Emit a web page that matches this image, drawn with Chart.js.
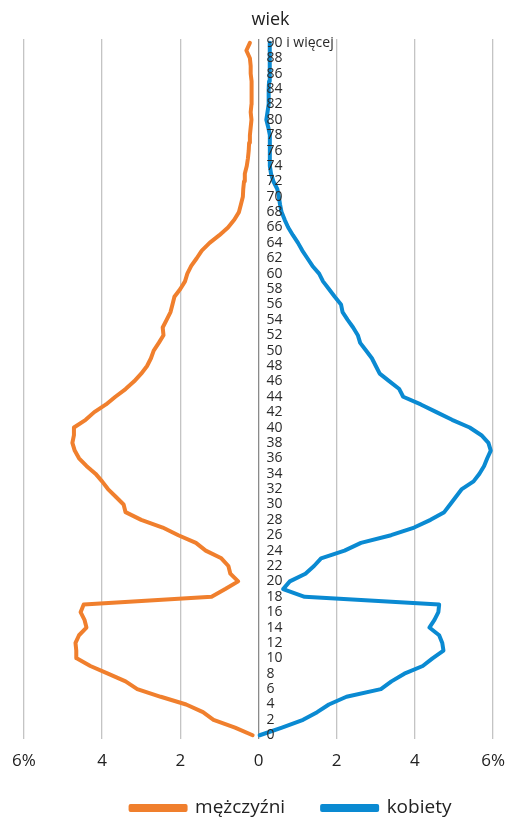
<!DOCTYPE html>
<html>
<head>
<meta charset="utf-8">
<script src="https://cdn.jsdelivr.net/npm/chart.js@4/dist/chart.umd.min.js"></script>
<style>
  html, body { margin: 0; padding: 0; background: #fff; }
</style>
</head>
<body>
<canvas id="pyramid" width="517" height="817"></canvas>
<script>
// share of population by single year of age (%)
const ages = [];
for (let a = 0; a <= 90; a++) ages.push(a);

const men = [
    0.15, 0.60, 1.15, 1.42, 1.85, 2.50, 3.10, 3.40, 3.85, 4.30,   // 0-9
    4.65, 4.66, 4.68, 4.59, 4.40, 4.45, 4.55, 4.47, 1.20, 0.85,   // 10-19
    0.52, 0.72, 0.77, 0.95, 1.35, 1.60, 2.05, 2.45, 3.00, 3.40,   // 20-29
    3.45, 3.65, 3.85, 4.00, 4.17, 4.40, 4.59, 4.70, 4.76, 4.72,   // 30-39
    4.72, 4.42, 4.20, 3.90, 3.66, 3.40, 3.18, 3.00, 2.85, 2.75,   // 40-49
    2.68, 2.55, 2.43, 2.45, 2.35, 2.25, 2.20, 2.15, 2.00, 1.88,   // 50-59
    1.82, 1.72, 1.58, 1.45, 1.25, 1.00, 0.78, 0.62, 0.50, 0.45,   // 60-69
    0.40, 0.39, 0.37, 0.35, 0.30, 0.27, 0.25, 0.24, 0.22, 0.20,   // 70-79
    0.18, 0.20, 0.18, 0.17, 0.18, 0.18, 0.20, 0.20, 0.22, 0.31,   // 80-89
    0.22                                                          // 90+
];

const women = [
    0.03, 0.60, 1.14, 1.50, 1.80, 2.25, 3.13, 3.40, 3.73, 4.20,   // 0-9
    4.45, 4.73, 4.70, 4.62, 4.37, 4.50, 4.60, 4.62, 1.18, 0.63,   // 10-19
    0.80, 1.20, 1.42, 1.60, 2.20, 2.62, 3.39, 3.98, 4.40, 4.75,   // 20-29
    4.90, 5.05, 5.20, 5.50, 5.65, 5.77, 5.85, 5.94, 5.88, 5.70,   // 30-39
    5.40, 4.95, 4.55, 4.15, 3.70, 3.60, 3.35, 3.10, 3.00, 2.90,   // 40-49
    2.75, 2.60, 2.54, 2.42, 2.28, 2.15, 2.11, 1.95, 1.80, 1.65,   // 50-59
    1.55, 1.38, 1.25, 1.12, 1.01, 0.88, 0.76, 0.67, 0.59, 0.55,   // 60-69
    0.52, 0.48, 0.38, 0.32, 0.29, 0.29, 0.29, 0.29, 0.29, 0.25,   // 70-79
    0.20, 0.23, 0.26, 0.26, 0.26, 0.27, 0.28, 0.29, 0.29, 0.29,   // 80-89
    0.29                                                          // 90+
];

const xTicks = [-6, -4, -2, 0, 2, 4, 6];
const ageLabelStep = 2;
const topAgeLabel = '90 i więcej';
const seriesNames = ['mężczyźni', 'kobiety'];
const colors = ['#f07f2d', '#0a8ad2'];

Chart.defaults.font.family = "'Open Sans', 'Noto Sans', sans-serif";
Chart.defaults.color = '#222';

// the legend sits a bit right of centre and closer to the axis than Chart.js puts it
const LEGEND_DX = 34.5;
const LEGEND_DY = -22;

const ageLabels = {
    id: 'ageLabels',
    afterLayout: function (chart) {
        const lg = chart.legend;
        lg.left += LEGEND_DX;
        lg.right += LEGEND_DX;
        lg.top += LEGEND_DY;
        lg.bottom = chart.height;   // legend clips to its own box
    },
    // age labels sit just right of the zero line, over the lines
    afterDatasetsDraw: function (chart) {
        const ctx = chart.ctx;
        const xs = chart.scales.x;
        const ys = chart.scales.y;
        const x0 = xs.getPixelForValue(0);
        ctx.save();
        ctx.font = "14px 'Open Sans', sans-serif";
        ctx.fillStyle = '#2a2a2a';
        ctx.textAlign = 'left';
        ctx.textBaseline = 'middle';
        for (let i = 0; i < ages.length; i += ageLabelStep) {
            const a = ages[i];
            const txt = a === 90 ? topAgeLabel : String(a);
            ctx.fillText(txt, x0 + 8, ys.getPixelForValue(a));
        }
        ctx.font = "18px 'Open Sans', sans-serif";
        ctx.fillStyle = '#222';
        ctx.textAlign = 'center';
        ctx.fillText('wiek', x0 + 12, 20);
        ctx.restore();
    }
};

const DATA = {
    datasets: [{
        label: seriesNames[0],
        data: ages.map((a, i) => ({ x: -men[i], y: a })),
        borderColor: colors[0],
        backgroundColor: colors[0],
        borderWidth: 4
    }, {
        label: seriesNames[1],
        data: ages.map((a, i) => ({ x: women[i], y: a })),
        borderColor: colors[1],
        backgroundColor: colors[1],
        borderWidth: 4
    }]
};

const CONFIG = {
    type: 'scatter',
    data: DATA,
    options: {
        responsive: false,
        animation: false,
        devicePixelRatio: 1,
        showLine: true,
        elements: {
            point: { radius: 0, hoverRadius: 0 },
            line: { tension: 0, borderJoinStyle: 'round', borderCapStyle: 'round' }
        },
        layout: {
            padding: { top: 39, left: 7.5, right: 11.5, bottom: 0 }
        },
        scales: {
            x: {
                type: 'linear',
                min: -6,
                max: 6,
                afterBuildTicks: function (scale) {
                    scale.ticks = xTicks.map(v => ({ value: v }));
                },
                grid: {
                    drawTicks: false,
                    lineWidth: 1.3,
                    color: function (c) {
                        return c.tick && c.tick.value === 0 ? '#8a8a8a' : '#c4c4c4';
                    }
                },
                border: { display: false },
                ticks: {
                    padding: 12,
                    font: { size: 17 },
                    color: '#222',
                    callback: function (v) {
                        return Math.abs(v) === 6 ? '6%' : String(Math.abs(v));
                    }
                }
            },
            y: {
                type: 'linear',
                min: -0.5,
                max: 90.5,
                display: false
            }
        },
        plugins: {
            tooltip: { enabled: false },
            legend: {
                position: 'bottom',
                maxHeight: 33.5,
                labels: {
                    boxWidth: 55,
                    boxHeight: 4,
                    padding: 37,
                    font: { size: 19 },
                    color: '#222'
                }
            }
        }
    },
    plugins: [ageLabels]
};

const pyramid = new Chart(document.querySelector('#pyramid'), CONFIG);
</script>
</body>
</html>
